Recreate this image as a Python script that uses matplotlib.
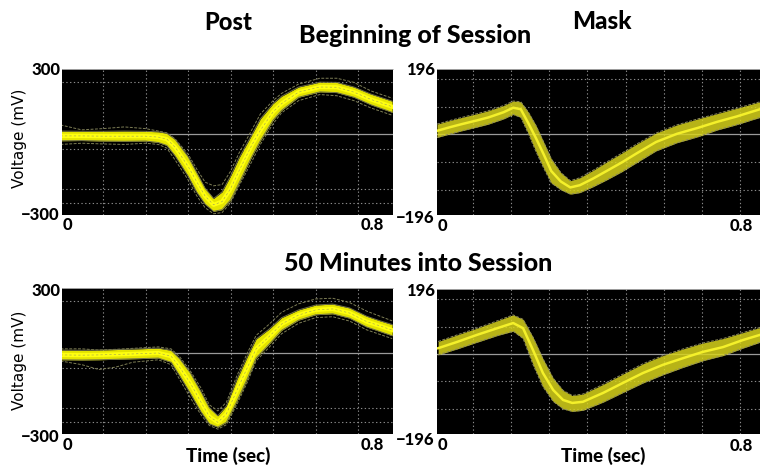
import matplotlib
matplotlib.use("Agg")
import matplotlib.pyplot as plt

# ---------------- data ----------------
col_titles = ["Post", "Mask"]
row_titles = ["Beginning of Session", "50 Minutes into Session"]
y_label = "Voltage (mV)"
x_label = "Time (sec)"
left_ylim = (-300, 300)
right_ylim = (-196, 196)
x_tick_labels = ["0", "0.8"]

# Top-left: Post, beginning of session
TL_t = [0.00, 0.05, 0.10, 0.15, 0.20, 0.23, 0.25, 0.27, 0.30, 0.32, 0.34, 0.36, 0.38,
        0.40, 0.42, 0.45, 0.47, 0.50, 0.52, 0.56, 0.61, 0.65, 0.69, 0.73, 0.78]
TL_mean = [25, 25, 24, 24, 24, 20, 12, -22, -100, -162, -222, -258, -245,
           -192, -118, -12, 48, 124, 158, 205, 226, 225, 205, 175, 145]
TL_hi = [45, 44, 44, 45, 44, 42, 36, 10, -60, -125, -190, -232, -205,
         -140, -65, 30, 95, 158, 188, 226, 246, 245, 226, 197, 168]
TL_lo = [5, 6, 4, 3, 4, -2, -14, -58, -140, -205, -255, -285, -278,
         -238, -168, -60, 5, 90, 130, 184, 206, 203, 184, 153, 122]
TL_out_hi = [70, 50, 55, 62, 55, 45, 38, 12, -50, -110, -165, -180, -175,
             -120, -45, 50, 115, 170, 200, 238, 262, 262, 245, 210, 180]
TL_out_lo = [-10, -5, -8, -10, -5, -10, -25, -75, -155, -220, -270, -295, -290,
             -250, -180, -80, -10, 75, 120, 170, 195, 190, 170, 140, 110]

# Top-right: Mask, beginning of session
TR_t = [0.005, 0.04, 0.07, 0.11, 0.14, 0.18, 0.205, 0.225, 0.245, 0.265, 0.285, 0.305, 0.33,
        0.355, 0.38, 0.415, 0.45, 0.49, 0.53, 0.58, 0.635, 0.69, 0.74, 0.79, 0.853]
TR_mean = [30, 40, 48, 58, 66, 80, 92, 88, 50, 10, -33, -78, -106,
           -122, -116, -98, -78, -55, -30, 0, 22, 38, 54, 68, 88]
TR_hi = [48, 58, 66, 76, 84, 98, 110, 108, 80, 44, 0, -45, -82,
         -104, -96, -76, -54, -30, -5, 24, 46, 62, 76, 90, 108]
TR_lo = [12, 22, 30, 40, 48, 62, 74, 66, 22, -26, -70, -110, -128,
         -140, -136, -120, -102, -80, -55, -24, -2, 14, 32, 46, 66]

# Bottom-left: Post, 50 minutes into session
BL_t = [0.00, 0.05, 0.09, 0.13, 0.17, 0.23, 0.26, 0.28, 0.305, 0.33, 0.35, 0.37, 0.39,
        0.415, 0.44, 0.46, 0.49, 0.52, 0.56, 0.60, 0.64, 0.68, 0.72, 0.75, 0.78]
BL_mean = [25, 24, 25, 27, 29, 33, 20, -25, -90, -168, -228, -252, -218,
           -120, -25, 50, 99, 152, 189, 210, 214, 197, 162, 145, 127]
BL_hi = [45, 44, 45, 47, 49, 53, 44, 10, -48, -125, -192, -225, -185,
         -75, 20, 90, 130, 178, 210, 230, 234, 218, 184, 166, 150]
BL_lo = [5, 4, 5, 7, 9, 12, -5, -60, -132, -208, -258, -272, -252,
         -165, -70, 12, 68, 126, 168, 190, 194, 176, 140, 122, 104]
BL_out_hi = [50, 50, 45, 48, 52, 58, 50, 18, -40, -110, -180, -205, -170,
             -60, 35, 105, 150, 200, 235, 255, 258, 240, 205, 185, 165]
BL_out_lo = [0, -15, -35, -25, -5, 5, -15, -75, -150, -220, -265, -280, -262,
             -178, -85, 0, 55, 112, 155, 178, 182, 164, 128, 110, 92]

# Bottom-right: Mask, 50 minutes into session
BR_t = [0.008, 0.058, 0.11, 0.163, 0.205, 0.231, 0.257, 0.283, 0.31, 0.336, 0.36,
        0.388, 0.441, 0.493, 0.546, 0.598, 0.651, 0.703, 0.756, 0.808, 0.853]
BR_mean = [36, 53, 72, 90, 104, 90, 31, -31, -77, -104, -112,
           -109, -85, -58, -31, -9, 9, 26, 39, 58, 72]
BR_hi = [54, 72, 90, 110, 126, 114, 66, 8, -45, -78, -92,
         -88, -62, -34, -6, 16, 34, 50, 62, 78, 92]
BR_lo = [18, 34, 52, 70, 82, 62, -8, -68, -108, -128, -135,
         -132, -110, -84, -58, -36, -16, 2, 16, 36, 52]

# oscilloscope grid (data coordinates)
left_hgrid = [247, -29, -193, -250]
left_ref = 33
right_hgrid = [169, 94, -54, -129]
right_ref = 21
left_vgrid = [0.1, 0.2, 0.3, 0.4, 0.5, 0.6, 0.7]
right_vgrid = [0.1, 0.2, 0.3, 0.4, 0.5, 0.6, 0.7, 0.8]

# ---------------- figure ----------------
W, H = 760, 471
fig = plt.figure(figsize=(W / 100, H / 100), dpi=100)
fig.patch.set_facecolor("white")

BOLD = dict(family=["Lato", "DejaVu Sans"], fontweight="black", color="black")


def px_axes(l, t, r, b):
    return fig.add_axes([l / W, 1 - b / H, (r - l) / W, (b - t) / H])


def style(ax, xlim, ylim, hgrid, ref, vgrid):
    ax.set_facecolor("black")
    ax.set_xlim(*xlim)
    ax.set_ylim(*ylim)
    ax.set_xticks(vgrid)
    ax.set_yticks(hgrid)
    ax.tick_params(length=0, labelleft=False, labelbottom=False)
    ax.grid(True, color="#8a8a8a", linestyle=(0, (1.2, 2.2)), linewidth=0.8)
    ax.axhline(ref, color="#9a9a9a", linewidth=0.9, zorder=1.5)
    for s in ax.spines.values():
        s.set_visible(False)
    ax.spines["top"].set_visible(True)
    ax.spines["top"].set_color("#bbbbbb")
    ax.spines["top"].set_linewidth(0.6)


def traces(ax, t, mean, hi, lo, dense=True, out_hi=None, out_lo=None):
    if out_hi is not None:
        ax.plot(t, out_hi, color="#7d7d55", lw=0.7, ls=(0, (3, 1.5)), zorder=2)
        ax.plot(t, out_lo, color="#7d7d55", lw=0.7, ls=(0, (3, 1.5)), zorder=2)
    if dense:
        ax.fill_between(t, lo, hi, color="#f2f200", alpha=0.95, lw=0, zorder=2.2)
        ax.plot(t, hi, color="#6e6e48", lw=0.7, zorder=2.4)
        ax.plot(t, lo, color="#6e6e48", lw=0.7, zorder=2.4)
        ax.plot(t, mean, color="#ffff10", lw=3.0, zorder=2.6)
        ax.plot(t, mean, color="#9a9a5a", lw=0.4, ls=(0, (4, 4)), zorder=2.7)
    else:
        ax.fill_between(t, lo, hi, color="#d8d41c", alpha=0.85, lw=0, zorder=2.2)
        ax.plot(t, hi, color="#8c8a5c", lw=0.7, ls=(0, (3, 1.5)), zorder=2.4)
        ax.plot(t, lo, color="#8c8a5c", lw=0.7, ls=(0, (3, 1.5)), zorder=2.4)
        ax.plot(t, mean, color="#f4f02a", lw=1.8, zorder=2.6)


# panel rectangles in pixels: left, top, right, bottom
ax_tl = px_axes(62, 69, 393, 215)
ax_tr = px_axes(437, 69, 760, 215)
ax_bl = px_axes(62, 288, 393, 434)
ax_br = px_axes(437, 289, 760, 434)

left_xlim = (0.0035, 0.782)
right_xlim = (0.005, 0.853)

style(ax_tl, left_xlim, left_ylim, left_hgrid, left_ref, left_vgrid)
style(ax_bl, left_xlim, left_ylim, left_hgrid, left_ref, left_vgrid)
style(ax_tr, right_xlim, right_ylim, right_hgrid, right_ref, right_vgrid)
style(ax_br, right_xlim, right_ylim, right_hgrid, right_ref, right_vgrid)

traces(ax_tl, TL_t, TL_mean, TL_hi, TL_lo, True, TL_out_hi, TL_out_lo)
traces(ax_bl, BL_t, BL_mean, BL_hi, BL_lo, True, BL_out_hi, BL_out_lo)
traces(ax_tr, TR_t, TR_mean, TR_hi, TR_lo, False)
traces(ax_br, BR_t, BR_mean, BR_hi, BR_lo, False)


def ftext(x, y, s, **kw):
    fig.text(x / W, 1 - y / H, s, **kw)


# titles
ftext(228, 30, col_titles[0], ha="center", va="baseline", fontsize=17, **BOLD)
ftext(602, 29, col_titles[1], ha="center", va="baseline", fontsize=17.5, **BOLD)
ftext(415, 43, row_titles[0], ha="center", va="baseline", fontsize=18, **BOLD)
ftext(418, 271, row_titles[1], ha="center", va="baseline", fontsize=18, **BOLD)

# y labels
for yc in (138, 360):
    ftext(20, yc, y_label, ha="center", va="center", rotation=90, fontsize=11,
          family=["DejaVu Sans"], color="black")

# tick labels
TK = dict(fontsize=12, **BOLD)
# top-left
ftext(60, 70, f"{left_ylim[1]}", ha="right", va="center", **TK)
ftext(60, 215, f"\u2212{abs(left_ylim[0])}", ha="right", va="center", **TK)
ftext(67, 225, x_tick_labels[0], ha="center", va="center", **TK)
ftext(372, 225, x_tick_labels[1], ha="center", va="center", **TK)
# top-right
ftext(435, 70, f"{right_ylim[1]}", ha="right", va="center", **TK)
ftext(435, 218, f"\u2212{abs(right_ylim[0])}", ha="right", va="center", **TK)
ftext(442, 226, x_tick_labels[0], ha="center", va="center", **TK)
ftext(741, 226, x_tick_labels[1], ha="center", va="center", **TK)
# bottom-left
ftext(60, 291, f"{left_ylim[1]}", ha="right", va="center", **TK)
ftext(60, 437, f"\u2212{abs(left_ylim[0])}", ha="right", va="center", **TK)
ftext(67, 445, x_tick_labels[0], ha="center", va="center", **TK)
ftext(372, 445, x_tick_labels[1], ha="center", va="center", **TK)
# bottom-right
ftext(435, 291, f"{right_ylim[1]}", ha="right", va="center", **TK)
ftext(435, 440, f"\u2212{abs(right_ylim[0])}", ha="right", va="center", **TK)
ftext(442, 445, x_tick_labels[0], ha="center", va="center", **TK)
ftext(741, 446, x_tick_labels[1], ha="center", va="center", **TK)

# x labels
ftext(228, 456, x_label, ha="center", va="center", fontsize=13.5, **BOLD)
ftext(603, 456, x_label, ha="center", va="center", fontsize=13.5, **BOLD)

fig.savefig("out.png", dpi=100, facecolor="white")
